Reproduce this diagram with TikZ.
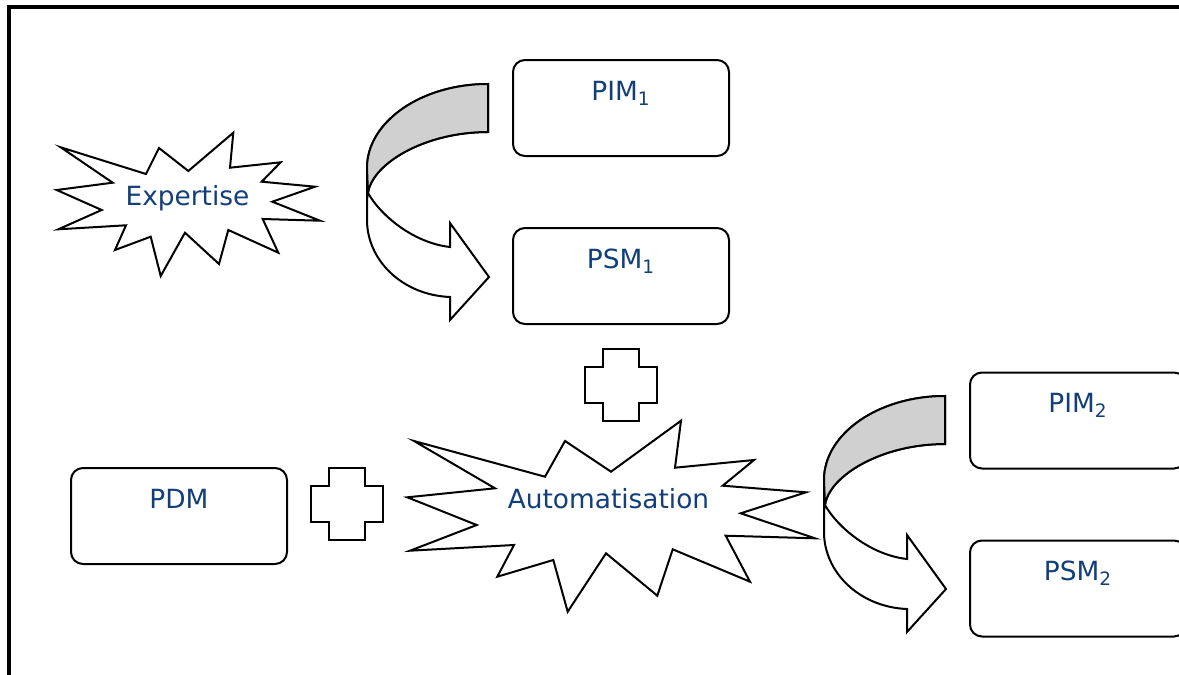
\documentclass[tikz,border=0pt]{standalone}
\usepackage{fontspec}
\setmainfont{DejaVu Sans}
\definecolor{LabelBlue}{RGB}{18,62,122}
\definecolor{FoldGray}{RGB}{208,208,208}
\usetikzlibrary{positioning,calc}

% curved ribbon arrow, shifted to #1
\newcommand{\turnarrow}[1]{%
  \begin{scope}[shift={#1}]
    \draw[ribbon,fill=white] (488,84) .. controls (421,84) and (367,122) .. (367,168)
      -- (367,220) .. controls (367,260) and (402,295) .. (450,297)
      -- (450,320) -- (489,277) -- (450,223) -- (450,247)
      .. controls (414,243) and (381,216) .. (368,193)
      .. controls (372,164) and (424,132) .. (488,132) -- cycle;
    \draw[ribbon,fill=FoldGray] (488,84) .. controls (421,84) and (367,122) .. (367,168)
      -- (368,193) .. controls (372,164) and (424,132) .. (488,132) -- cycle;
  \end{scope}}
% plus sign centred at #1
\newcommand{\plussign}[1]{%
  \begin{scope}[shift={#1}]
    \draw[ribbon] (-18,-36) -- (18,-36) -- (18,-18) -- (36,-18) -- (36,18) -- (18,18)
      -- (18,36) -- (-18,36) -- (-18,18) -- (-36,18) -- (-36,-18) -- (-18,-18) -- cycle;
  \end{scope}}

\begin{document}
\begin{tikzpicture}[x=0.5pt,y=-0.5pt,
  ribbon/.style={line width=1pt,line join=miter},
  modelbox/.style={draw,line width=1pt,rounded corners=6pt,minimum width=108pt,
    minimum height=48pt,inner sep=0pt},
  boxtext/.style={anchor=base,text=LabelBlue,font=\fontsize{13.2pt}{16pt}\selectfont},
  burst/.style={line width=1pt,line join=miter,fill=white}]
\useasboundingbox (0,0) rectangle (1179,675);
% frame
\draw[line width=1.6pt] (9,676) -- (9,7) -- (1180,7);

% expertise burst
\draw[burst] (60.7,147.3) -- (146,174) -- (159,148) -- (188.3,171) -- (233.3,132.7)
  -- (230,167.7) -- (280.7,162.3) -- (261.7,181.7) -- (315,186.7) -- (272.3,201.7)
  -- (320,220.7) -- (262.7,219) -- (278.3,252.7) -- (228.3,230) -- (219,264)
  -- (185,232.7) -- (160.7,276) -- (150.7,236.7) -- (115,250) -- (126,225.3)
  -- (58.3,229.3) -- (101.7,210) -- (56.7,190) -- (112.7,182.7) -- cycle;
\node[boxtext] (expertise) at (187.5,205) {Expertise};

% automatisation burst
\draw[burst] (414,441) -- (545,476.7) -- (565,441) -- (611,471.7) -- (681,420.7)
  -- (675,467.7) -- (754,460) -- (722.7,485.7) -- (806,492.3) -- (740.7,513.3)
  -- (815,538.3) -- (725.7,535.7) -- (750,581.7) -- (672.7,549.3) -- (657.3,595.7)
  -- (606,553.3) -- (567.7,611.7) -- (553.3,560) -- (497.3,576.7) -- (514,545)
  -- (410,550.7) -- (476.7,525) -- (407.3,497.3) -- (495,488.3) -- cycle;
\node[boxtext] (auto) at (608.5,508) {Automatisation};

% models
\node[modelbox] (pim1) at (621,108) {};
\node[boxtext] (pim1t) at ([yshift=-20.5pt]pim1.north) {PIM\textsubscript{1}};
\node[modelbox] (psm1) at (621,276) {};
\node[boxtext] (psm1t) at ([yshift=-20.5pt]psm1.north) {PSM\textsubscript{1}};
\node[modelbox] (pdm) at (179,516) {};
\node[boxtext] (pdmt) at ([yshift=-20.5pt]pdm.north) {PDM};
\node[modelbox] (pim2) at (1078,420.5) {};
\node[boxtext] (pim2t) at ([yshift=-20.5pt]pim2.north) {PIM\textsubscript{2}};
\node[modelbox] (psm2) at (1078,588.5) {};
\node[boxtext] (psm2t) at ([yshift=-20.5pt]psm2.north) {PSM\textsubscript{2}};

% arrows and pluses
\turnarrow{(0,0)}
\turnarrow{(457,312)}
\plussign{(621,384.5)}
\plussign{(347,504.3)}
\end{tikzpicture}
\end{document}
